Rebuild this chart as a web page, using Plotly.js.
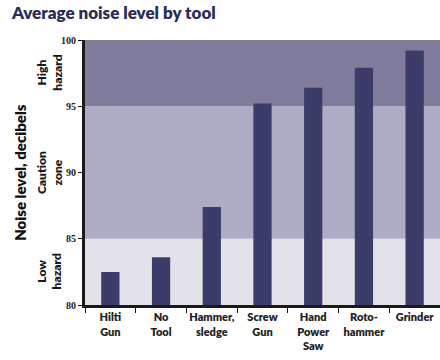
<!DOCTYPE html>
<html>
<head>
<meta charset="utf-8">
<script src="https://cdn.plot.ly/plotly-3.0.1.min.js"></script>
<style>html,body{margin:0;padding:0;background:#fff;}#chart{width:440px;height:360px;}</style>
</head>
<body>
<div id="chart"></div>
<script>
const tools = ["Hilti<br>Gun", "No<br>Tool", "Hammer,<br>sledge", "Screw<br>Gun", "Hand<br>Power<br>Saw", "Roto-<br>hammer", "Grinder"];
const noiseDb = [82.5, 83.6, 87.4, 95.2, 96.4, 97.9, 99.2];
const zoneBounds = [80, 85, 95, 100];
const zoneNames = ["Low<br>hazard", "Caution<br>zone", "High<br>hazard"];
const zoneColors = ["#e3e2e8", "#adacc4", "#7f7c9c"];
const yTicks = [80, 85, 90, 95, 100];

const shapes = zoneNames.map((n, i) => ({
  type: "rect", xref: "paper", yref: "y", x0: 0, x1: 1,
  y0: zoneBounds[i], y1: zoneBounds[i + 1],
  fillcolor: zoneColors[i], line: {width: 0}, layer: "below"
}));

const annotations = zoneNames.map((n, i) => ({
  xref: "paper", yref: "y", x: -0.1, xanchor: "center",
  y: (zoneBounds[i] + zoneBounds[i + 1]) / 2, yanchor: "middle",
  text: n, textangle: -90, showarrow: false,
  font: {family: "Lato", size: 12, color: "#1a1a1a", weight: 800}
}));
annotations.push({
  xref: "paper", yref: "paper", x: -0.185, xanchor: "center", y: 0.5, yanchor: "middle",
  text: "Noise level, decibels", textangle: -90, showarrow: false,
  font: {family: "Lato", size: 15, color: "#111", weight: 800}
});

Plotly.newPlot("chart", [{
  type: "bar", x: tools, y: noiseDb, width: 0.36,
  marker: {color: "#3b3c69", line: {width: 0}},
  hoverinfo: "none"
}], {
  width: 440, height: 360,
  margin: {l: 85, r: 0, t: 40, b: 55},
  paper_bgcolor: "#fff", plot_bgcolor: "rgba(0,0,0,0)",
  title: {text: "Average noise level by tool", x: 0.027, xanchor: "left", y: 0.965, yanchor: "middle",
    font: {family: "Lato", size: 17, color: "#2a2e55", weight: 800}},
  xaxis: {
    type: "category", range: [-0.5, 6.5], tickson: "boundaries",
    ticks: "outside", ticklen: 5, tickwidth: 1, tickcolor: "#111",
    showline: true, linecolor: "#1a1a1a", linewidth: 3, showgrid: false,
    tickfont: {family: "Lato", size: 11, color: "#222", weight: 800}, tickangle: 0
  },
  yaxis: {
    range: [80, 100], tickvals: yTicks, ticktext: yTicks.map(String),
    ticks: "outside", ticklen: 4, tickwidth: 1, tickcolor: "#111",
    showline: true, linecolor: "#1a1a1a", linewidth: 3, showgrid: false, zeroline: false,
    tickfont: {family: "Liberation Serif", size: 10, color: "#222", weight: 700}
  },
  shapes: shapes, annotations: annotations, showlegend: false
}, {displayModeBar: false, staticPlot: true});
</script>
</body>
</html>
